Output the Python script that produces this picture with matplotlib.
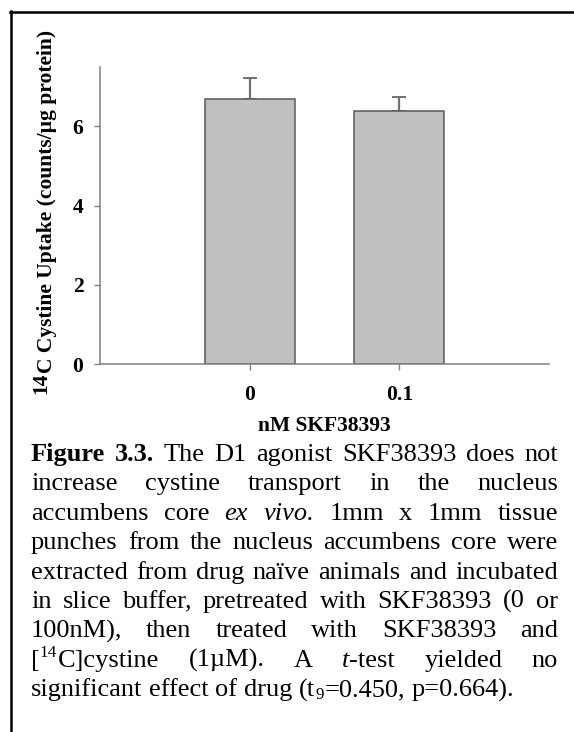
import matplotlib
matplotlib.use('Agg')
import matplotlib.pyplot as plt
from matplotlib.transforms import IdentityTransform
from matplotlib.lines import Line2D

# ---------------- data ----------------
categories = ['0', '0.1']
means = [6.70, 6.40]
sems = [0.53, 0.33]
yticks = [0, 2, 4, 6]
xlabel = 'nM SKF38393'
ylabel_sup = '14'
ylabel_main = 'C Cystine Uptake (counts/µg protein)'

# caption: list of lines, each line a list of words, each word a list of (text, style)
caption_lines = [
    [[('Figure', 'b')], [('3.3.', 'b')], [('The', 'n')], [('D1', 'n')],
     [('agonist', 'n')], [('SKF38393', 'n')], [('does', 'n')], [('not', 'n')]],
    [[('increase', 'n')], [('cystine', 'n')], [('transport', 'n')], [('in', 'n')],
     [('the', 'n')], [('nucleus', 'n')]],
    [[('accumbens', 'n')], [('core', 'n')], [('ex', 'i')], [('vivo.', 'i')],
     [('1mm', 'n')], [('x', 'n')], [('1mm', 'n')], [('tissue', 'n')]],
    [[('punches', 'n')], [('from', 'n')], [('the', 'n')], [('nucleus', 'n')],
     [('accumbens', 'n')], [('core', 'n')], [('were', 'n')]],
    [[('extracted', 'n')], [('from', 'n')], [('drug', 'n')], [('naïve', 'n')],
     [('animals', 'n')], [('and', 'n')], [('incubated', 'n')]],
    [[('in', 'n')], [('slice', 'n')], [('buffer,', 'n')], [('pretreated', 'n')],
     [('with', 'n')], [('SKF38393', 'n')], [('(0', 'n')], [('or', 'n')]],
    [[('100nM),', 'n')], [('then', 'n')], [('treated', 'n')], [('with', 'n')],
     [('SKF38393', 'n')], [('and', 'n')]],
    [[('[', 'n'), ('14', 'sup'), ('C]cystine', 'n')], [('(1µM).', 'n')], [('A', 'n')],
     [('t', 'i'), ('-test', 'n')], [('yielded', 'n')], [('no', 'n')]],
    [[('significant', 'n')], [('effect', 'n')], [('of', 'n')], [('drug', 'n')],
     [('(t', 'n'), ('9', 'sub'), ('=0.450,', 'n')], [('p=0.664).', 'n')]],
]

# ---------------- figure ----------------
W, H = 574, 732
DPI = 100
SERIF = ['Liberation Serif', 'DejaVu Serif']
fig = plt.figure(figsize=(W / DPI, H / DPI), dpi=DPI)
renderer = fig.canvas.get_renderer()

def Y(y_top):
    return H - y_top

# frame lines (left and top)
fig.add_artist(Line2D([10.5, 10.5], [Y(11), Y(732)], transform=IdentityTransform(),
                      color='black', linewidth=1.8))
fig.add_artist(Line2D([10, 574], [Y(12), Y(12)], transform=IdentityTransform(),
                      color='black', linewidth=1.8))

# ---------------- chart ----------------
ax = fig.add_axes([100 / W, 1 - 364 / H, 449 / W, 297 / H])
xpos = list(range(len(categories)))
ax.bar(xpos, means, width=0.6, color='#c0c0c0', edgecolor='#5a5a5a', linewidth=1.1, zorder=2)
ax.errorbar(xpos, means, yerr=[[0] * len(sems), sems], fmt='none', ecolor='#707070',
            elinewidth=1.6, capsize=5, capthick=1.4, zorder=1)
ax.set_xlim(-1, 2)
ax.set_ylim(0, 7.5)
ax.set_xticks(xpos)
ax.set_xticklabels(categories)
ax.set_yticks(yticks)
ax.set_yticklabels([str(v) for v in yticks])
for s in ['top', 'right']:
    ax.spines[s].set_visible(False)
for s in ['left', 'bottom']:
    ax.spines[s].set_color('#808080')
    ax.spines[s].set_linewidth(1.1)
ax.tick_params(axis='both', direction='out', length=4, width=1.0, color='#808080')
ax.tick_params(axis='y', pad=8)
ax.tick_params(axis='x', pad=11)
tick_size = 15.5
for lab in ax.get_xticklabels() + ax.get_yticklabels():
    lab.set_fontfamily(SERIF)
    lab.set_fontweight('bold')
    lab.set_fontsize(tick_size)
ax.set_xlabel(xlabel, fontfamily=SERIF, fontweight='bold', fontsize=15.5, labelpad=8)

# y label: "14" raised + main text, rotated
ylab_size = 15.5
ylab_x = 47
ylab_bottom = 394
t1 = fig.text(ylab_x - 6, Y(ylab_bottom), ylabel_sup, transform=IdentityTransform(), rotation=90,
              ha='center', va='bottom', fontfamily=SERIF, fontweight='bold', fontsize=ylab_size)
h1 = t1.get_window_extent(renderer).height
fig.text(ylab_x, Y(ylab_bottom) + h1, ylabel_main, transform=IdentityTransform(), rotation=90,
         ha='center', va='bottom', fontfamily=SERIF, fontweight='bold', fontsize=ylab_size)

# ---------------- caption ----------------
LEFT, RIGHT = 31, 558
BASE0, LSTEP = 461, 29.4

def style_kw(style, size):
    kw = dict(fontfamily=SERIF, fontsize=size, transform=IdentityTransform(),
              ha='left', va='baseline')
    if style == 'b':
        kw['fontweight'] = 'bold'
    elif style == 'i':
        kw['fontstyle'] = 'italic'
    elif style in ('sup', 'sub'):
        kw['fontsize'] = size * 0.65
    return kw

def draw_word(word, x, y, size, draw=True):
    spx = size * DPI / 72.0
    x0 = x
    for txt, st in word:
        dy = 0
        if st == 'sup':
            dy = 0.36 * spx
        elif st == 'sub':
            dy = -0.12 * spx
        t = fig.text(x, y + dy, txt, **style_kw(st, size))
        w = t.get_window_extent(renderer).width
        x += w + (1 if st in ('sup', 'sub') else 0)
        if not draw:
            t.remove()
    return x - x0

def word_width(word, size):
    return draw_word(word, 0, 0, size, draw=False)

def space_width(size):
    a = fig.text(0, 0, 'n n', **style_kw('n', size))
    b = fig.text(0, 0, 'nn', **style_kw('n', size))
    w = a.get_window_extent(renderer).width - b.get_window_extent(renderer).width
    a.remove(); b.remove()
    return w

# fit font size so the last (unjustified) line spans its measured width
target_last = 517 - LEFT
s0 = 16.0
last = caption_lines[-1]
w0 = sum(word_width(wd, s0) for wd in last) + space_width(s0) * (len(last) - 1)
cap_size = s0 * target_last / w0
sp = space_width(cap_size)

for i, line in enumerate(caption_lines):
    y = Y(BASE0 + i * LSTEP)
    widths = [word_width(wd, cap_size) for wd in line]
    if i < len(caption_lines) - 1:
        gap = (RIGHT - LEFT - sum(widths)) / (len(line) - 1)
    else:
        gap = sp
    x = LEFT
    for wd, w in zip(line, widths):
        draw_word(wd, x, y, cap_size)
        x += w + gap

fig.savefig('out.png', dpi=DPI, facecolor='white')
